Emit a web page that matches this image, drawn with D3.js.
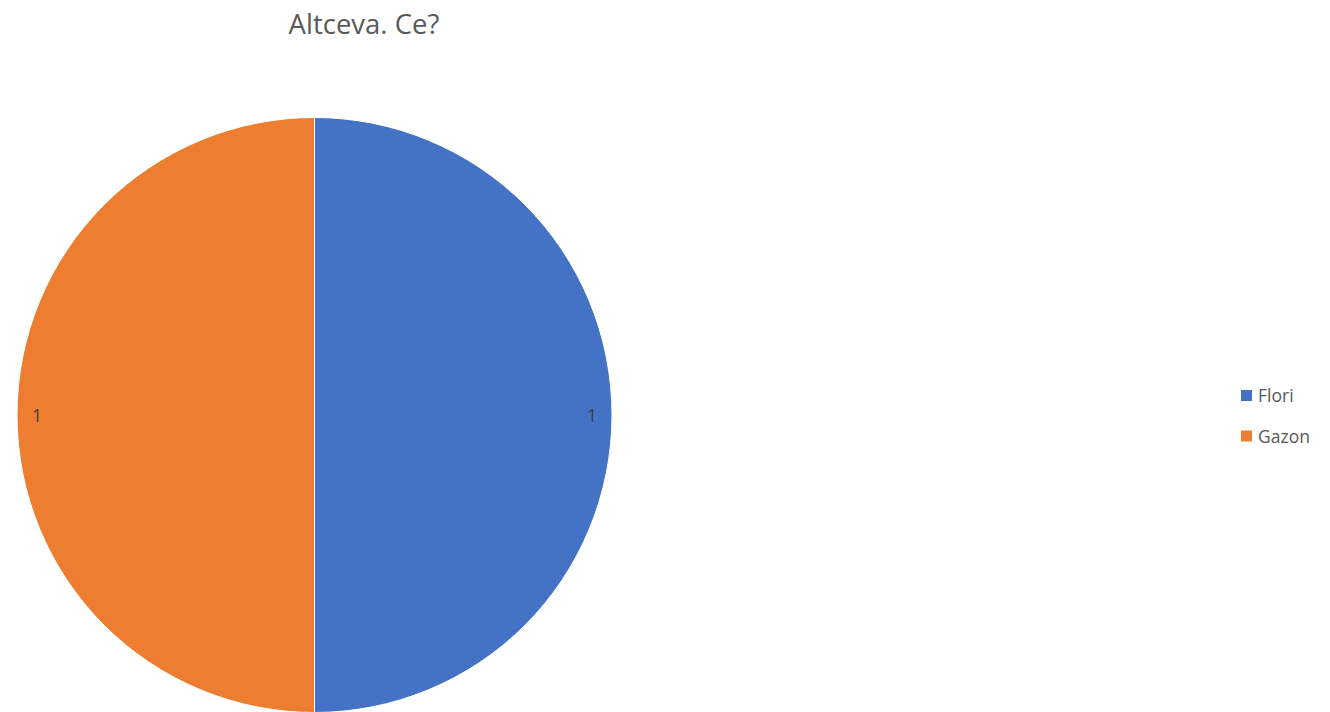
<!DOCTYPE html>
<html><head><meta charset="utf-8">
<script src="https://cdn.jsdelivr.net/npm/d3@7"></script>
<style>body{margin:0;background:#fff;}svg{display:block;}</style>
</head><body>
<svg id="c" width="1330" height="712"></svg>
<script>
const title = "Altceva. Ce?";
const categories = ["Flori", "Gazon"];
const values = [1, 1];
const colors = ["#4472C4", "#ED7D31"];

const svg = d3.select("#c");
const font = "Open Sans, Noto Sans, sans-serif";
const cx = 314.5, cy = 415, r = 297.5;

svg.append("text").attr("x", 364).attr("y", 34).attr("text-anchor", "middle")
  .attr("font-family", font).attr("font-size", 27.5).attr("fill", "#595959").text(title);

const data = categories.map((c, i) => ({cat: c, value: values[i]}));
const pie = d3.pie().value(d => d.value).sort(null);
const arc = d3.arc().innerRadius(0).outerRadius(r);
const color = d3.scaleOrdinal().domain(categories).range(colors);
const arcs = pie(data);
const g = svg.append("g").attr("transform", `translate(${cx},${cy})`);
g.selectAll("path").data(arcs).join("path")
  .attr("d", arc).attr("fill", d => color(d.data.cat))
  .attr("stroke", "#fff").attr("stroke-width", 1);

const labelArc = d3.arc().innerRadius(r - 20).outerRadius(r - 20);
g.selectAll("text.lbl").data(arcs).join("text").attr("class", "lbl")
  .attr("x", d => labelArc.centroid(d)[0]).attr("y", d => labelArc.centroid(d)[1] + 6.5)
  .attr("text-anchor", "middle").attr("font-family", font).attr("font-size", 17.5)
  .attr("fill", "#404040").text(d => d.data.value);

const leg = svg.append("g");
categories.forEach((c, i) => {
  const y = 390 + i * 40.5;
  leg.append("rect").attr("x", 1241).attr("y", y).attr("width", 11).attr("height", 11).attr("fill", color(c));
  leg.append("text").attr("x", 1258).attr("y", y + 12).attr("font-family", font)
    .attr("font-size", 17.5).attr("fill", "#595959").text(c);
});
</script>
</body></html>
